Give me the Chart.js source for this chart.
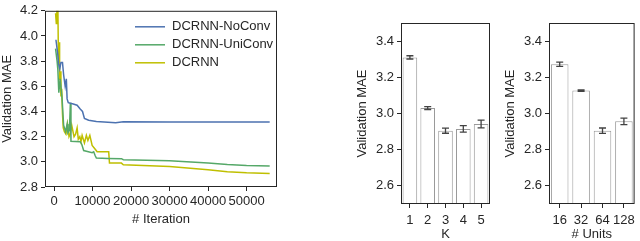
<!DOCTYPE html>
<html>
<head>
<meta charset="utf-8">
<script src="https://cdn.jsdelivr.net/npm/chart.js@4.4.1/dist/chart.umd.min.js"></script>
<style>
  html, body { margin: 0; padding: 0; background: #fff; overflow: hidden; }
  body { width: 640px; height: 241px; position: relative; }
  canvas { position: absolute; top: 0; }
</style>
</head>
<body>
<canvas id="iterChart" width="290" height="250" style="left:0px"></canvas>
<canvas id="kChart" width="137" height="250" style="left:355px"></canvas>
<canvas id="unitsChart" width="137" height="250" style="left:503px"></canvas>
<script>
// --- left: validation MAE over training iterations
const iterTicks = [0, 10000, 20000, 30000, 40000, 50000];
const maeTicks = [2.8, 3.0, 3.2, 3.4, 3.6, 3.8, 4.0, 4.2];

const iterNoConv = [500, 1000, 1200, 1500, 1800, 2200, 2500, 2900, 3200, 3400, 3700, 5000, 6000, 6800, 7400, 7900, 9000, 11000, 14000, 16000, 18000, 30000, 45000, 56000];
const maeNoConv = [3.97, 3.85, 3.78, 3.74, 3.79, 3.79, 3.69, 3.60, 3.66, 3.50, 3.47, 3.46, 3.45, 3.42, 3.40, 3.345, 3.33, 3.32, 3.315, 3.31, 3.318, 3.316, 3.316, 3.316];

const iterUniConv = [400, 800, 1000, 1250, 1600, 2100, 2500, 3000, 3400, 3600, 4000, 4250, 4400, 6800, 7200, 7700, 9900, 10300, 10700, 11000, 14000, 17500, 18000, 30000, 40000, 45000, 50000, 56000];
const maeUniConv = [3.90, 3.80, 3.73, 3.55, 3.66, 3.50, 3.29, 3.24, 3.30, 3.23, 3.25, 3.47, 3.164, 3.16, 3.14, 3.09, 3.073, 3.08, 3.048, 3.03, 3.027, 3.025, 3.017, 3.009, 2.99, 2.978, 2.97, 2.966];

const iterDcrnn = [400, 600, 750, 900, 1000, 1150, 1300, 1450, 1600, 1800, 2000, 2200, 2400, 2700, 3100, 3500, 3900, 4200, 4600, 5200, 5600, 6000, 6300, 6700, 7000, 7300, 7900, 8400, 8800, 9300, 9900, 10700, 11200, 14200, 14400, 17500, 18000, 30000, 40000, 45000, 50000, 56000];
const maeDcrnn = [4.18, 4.10, 4.30, 4.15, 4.25, 3.80, 3.95, 3.65, 3.72, 3.52, 3.58, 3.38, 3.27, 3.24, 3.22, 3.30, 3.20, 3.22, 3.29, 3.20, 3.22, 3.27, 3.18, 3.20, 3.16, 3.21, 3.15, 3.21, 3.17, 3.21, 3.13, 3.10, 3.08, 3.08, 2.99, 2.99, 2.977, 2.963, 2.937, 2.922, 2.913, 2.908];

// --- middle: diffusion steps K
const kLabels = ['1', '2', '3', '4', '5'];
const kMae = [3.31, 3.03, 2.905, 2.915, 2.942];
const kErr = [0.009, 0.008, 0.014, 0.018, 0.021];

// --- right: number of units
const unitLabels = ['16', '32', '64', '128'];
const unitMae = [3.272, 3.127, 2.905, 2.957];
const unitErr = [0.012, 0.004, 0.015, 0.018];

const barTicks = [2.6, 2.8, 3.0, 3.2, 3.4];

const ink = '#262626';
Chart.defaults.font.family = '"Liberation Sans", Arial, sans-serif';
Chart.defaults.font.size = 13;
Chart.defaults.color = ink;
Chart.defaults.animation = false;

const pts = (xs, ys) => xs.map((x, i) => ({ x: x, y: ys[i] }));

// box around the plot area, like matplotlib spines
const framePlugin = {
    id: 'frame',
    afterDraw(chart) {
        const { ctx, chartArea: a } = chart;
        ctx.save();
        ctx.strokeStyle = ink;
        ctx.lineWidth = 1;
        ctx.strokeRect(a.left + 0.5, a.top + 0.5, a.right - a.left - 1, a.bottom - a.top - 1);
        ctx.restore();
    }
};

// legend drawn inside the top right of the plot, no box
const lineLegend = {
    id: 'lineLegend',
    afterDraw(chart) {
        const { ctx, chartArea: a } = chart;
        ctx.save();
        ctx.font = '13px "Liberation Sans", Arial, sans-serif';
        ctx.textBaseline = 'middle';
        chart.data.datasets.forEach((ds, i) => {
            const y = a.top + 16 + i * 18;
            ctx.strokeStyle = ds.borderColor;
            ctx.lineWidth = 1.5;
            ctx.beginPath();
            ctx.moveTo(a.left + 90, y);
            ctx.lineTo(a.left + 120, y);
            ctx.stroke();
            ctx.fillStyle = ink;
            ctx.fillText(ds.label, a.left + 127, y);
        });
        ctx.restore();
    }
};

// error bars from the dataset's err array
const errorBars = {
    id: 'errorBars',
    afterDatasetsDraw(chart) {
        const { ctx } = chart;
        const yScale = chart.scales.y;
        ctx.save();
        ctx.strokeStyle = '#424242';
        ctx.lineWidth = 1.3;
        chart.data.datasets.forEach((ds, di) => {
            chart.getDatasetMeta(di).data.forEach((bar, i) => {
                const v = ds.data[i], e = ds.err[i];
                const y1 = yScale.getPixelForValue(v - e);
                const y2 = yScale.getPixelForValue(v + e);
                ctx.beginPath();
                ctx.moveTo(bar.x, y1); ctx.lineTo(bar.x, y2);
                ctx.moveTo(bar.x - 3.5, y1); ctx.lineTo(bar.x + 3.5, y1);
                ctx.moveTo(bar.x - 3.5, y2); ctx.lineTo(bar.x + 3.5, y2);
                ctx.stroke();
            });
        });
        ctx.restore();
    }
};

const tickGrid = { display: true, drawOnChartArea: false, drawTicks: true, tickLength: 4, color: ink, offset: false };

function lineSet(label, xs, ys, color) {
    return { label: label, data: pts(xs, ys), borderColor: color, backgroundColor: color, borderWidth: 1.5, pointRadius: 0, tension: 0 };
}

new Chart(document.getElementById('iterChart'), {
    type: 'line',
    data: {
        datasets: [
            lineSet('DCRNN-NoConv', iterNoConv, maeNoConv, '#4c72b0'),
            lineSet('DCRNN-UniConv', iterUniConv, maeUniConv, '#55a868'),
            lineSet('DCRNN', iterDcrnn, maeDcrnn, '#bfbf00')
        ]
    },
    options: {
        responsive: false,
        devicePixelRatio: 1,
        layout: { padding: { top: 6, right: 13, left: 0, bottom: 0 } },
        scales: {
            x: {
                type: 'linear',
                min: -2340,
                max: 57900,
                afterBuildTicks: (s) => { s.ticks = iterTicks.map(v => ({ value: v })); },
                afterFit: (s) => { s.height = 63; },
                ticks: { autoSkip: false, maxRotation: 0, callback: (v) => String(v) },
                grid: tickGrid,
                border: { display: false },
                title: { display: true, text: '# Iteration', padding: { top: 0, bottom: 23 } }
            },
            y: {
                min: 2.8,
                max: 4.2,
                afterBuildTicks: (s) => { s.ticks = maeTicks.map(v => ({ value: v })); },
                afterFit: (s) => { s.width = 45; },
                ticks: { callback: (v) => v.toFixed(1) },
                grid: tickGrid,
                border: { display: false },
                title: { display: true, text: 'Validation MAE', padding: 0 }
            }
        },
        plugins: { legend: { display: false }, tooltip: { enabled: false } }
    },
    plugins: [framePlugin, lineLegend]
});

function barChart(id, labels, values, errs, xTitle) {
    return new Chart(document.getElementById(id), {
        type: 'bar',
        data: {
            labels: labels,
            datasets: [{
                data: values,
                err: errs,
                backgroundColor: '#ffffff',
                borderColor: '#9a9a9a',
                borderWidth: 1,
                borderSkipped: false,
                barPercentage: 0.82,
                categoryPercentage: 1
            }]
        },
        options: {
            responsive: false,
            devicePixelRatio: 1,
            layout: { padding: { top: 23, right: 2, left: 0, bottom: 0 } },
            scales: {
                x: {
                    afterFit: (s) => { s.height = 46; },
                    ticks: { autoSkip: false, maxRotation: 0, padding: 5 },
                    grid: tickGrid,
                    border: { display: false },
                    title: { display: true, text: xTitle, padding: { top: 0, bottom: 8 } }
                },
                y: {
                    min: 2.5,
                    max: 3.5,
                    afterBuildTicks: (s) => { s.ticks = barTicks.map(v => ({ value: v })); },
                    afterFit: (s) => { s.width = 46; },
                    ticks: { callback: (v) => v.toFixed(1) },
                    grid: tickGrid,
                    border: { display: false },
                    title: { display: true, text: 'Validation MAE', padding: 0 }
                }
            },
            plugins: { legend: { display: false }, tooltip: { enabled: false } }
        },
        plugins: [errorBars, framePlugin]
    });
}

barChart('kChart', kLabels, kMae, kErr, 'K');
barChart('unitsChart', unitLabels, unitMae, unitErr, '# Units');
</script>
</body>
</html>
